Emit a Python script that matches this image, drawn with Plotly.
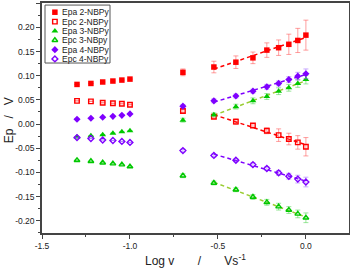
import numpy as np
import plotly.graph_objects as go

# ---- data ----
log_v = [-1.301, -1.222, -1.155, -1.097, -1.046, -1.0, -0.699,
         -0.523, -0.398, -0.301, -0.222, -0.155, -0.097, -0.046, 0.0]

epa2 = [0.082, 0.084, 0.087, 0.089, 0.091, 0.093, 0.107,
        0.118, 0.128, 0.137, 0.153, 0.158, 0.165, 0.173, 0.184]
epa2_err = [None] * 6 + [0.007, 0.012, 0.013, 0.012, 0.015, 0.016, 0.021, 0.025, 0.031]

epc2 = [0.048, 0.047, 0.044, 0.043, 0.042, 0.040, 0.027,
        0.015, 0.005, -0.003, -0.014, -0.023, -0.031, -0.038, -0.047]
epc2_err = [None] * 6 + [0.003, 0.003, 0.006, 0.004, 0.006, 0.013, 0.012, 0.014, 0.019]

epa3 = [-0.027, -0.024, -0.022, -0.019, -0.016, -0.014, 0.008,
        0.019, 0.036, 0.048, 0.057, 0.068, 0.075, 0.084, 0.092]
epa3_err = [None] * 6 + [0.004, 0.004, 0.005, 0.006, 0.006, 0.007, 0.007, 0.008, 0.009]

epc3 = [-0.075, -0.077, -0.080, -0.082, -0.084, -0.088, -0.107,
        -0.122, -0.136, -0.151, -0.162, -0.171, -0.178, -0.186, -0.194]
epc3_err = [None] * 6 + [0.004, 0.004, 0.004, 0.005, 0.006, 0.007, 0.007, 0.008, 0.010]

epa4 = [0.010, 0.012, 0.014, 0.016, 0.018, 0.021, 0.037,
        0.048, 0.058, 0.068, 0.077, 0.084, 0.092, 0.099, 0.104]
epa4_err = [None] * 6 + [0.003, 0.004, 0.004, 0.004, 0.005, 0.005, 0.006, 0.008, 0.010]

epc4 = [-0.028, -0.030, -0.033, -0.034, -0.036, -0.038, -0.055,
        -0.065, -0.075, -0.084, -0.092, -0.101, -0.108, -0.114, -0.120]
epc4_err = [None] * 6 + [0.003, 0.003, 0.003, 0.004, 0.004, 0.005, 0.006, 0.008, 0.010]

series_names = ["Epa 2-NBPy", "Epc 2-NBPy", "Epa 3-NBPy", "Epc 3-NBpy", "Epa 4-NBPy", "Epc 4-NBPy"]

x_tick_vals = [-1.5, -1.0, -0.5, 0.0]
x_tick_text = ["-1.5", "-1.0", "-0.5", "0.0"]
y_tick_vals = [-0.20, -0.15, -0.10, -0.05, 0.00, 0.05, 0.10, 0.15, 0.20, 0.25]
y_tick_text = ["-0.20", "-0.15", "-0.10", "-0.05", "0.00", "0.05", "0.10", "0.15", "0.20", "0.25"]

# ---- styles ----
RED = "#FF0000"
GREEN = "#00C800"
PURPLE = "#7F00FF"
FONT = "Liberation Sans, Arial, sans-serif"

styles = [
    dict(symbol="square", color=RED, err="rgba(255,80,80,0.55)", fit=RED, size=5.5),
    dict(symbol="square-open", color=RED, err="rgba(255,80,80,0.55)", fit=RED, size=4.5),
    dict(symbol="triangle-up", color=GREEN, err="rgba(60,210,60,0.5)", fit="#9ACD32", size=6),
    dict(symbol="triangle-up-open", color=GREEN, err="rgba(60,210,60,0.5)", fit="#9ACD32", size=5),
    dict(symbol="diamond", color=PURPLE, err="rgba(150,90,255,0.5)", fit=PURPLE, size=5.5),
    dict(symbol="diamond-open", color=PURPLE, err="rgba(150,90,255,0.5)", fit=PURPLE, size=4.5),
]
ys = [epa2, epc2, epa3, epc3, epa4, epc4]
errs = [epa2_err, epc2_err, epa3_err, epc3_err, epa4_err, epc4_err]

fig = go.Figure()

# linear fits over the high scan-rate region
fit_x = np.array(log_v[7:])
for y, st in zip(ys, styles):
    k, b = np.polyfit(fit_x, np.array(y[7:]), 1)
    xx = np.array([fit_x[0], fit_x[-1]])
    fig.add_trace(go.Scatter(x=xx, y=k * xx + b, mode="lines", showlegend=False,
                             line=dict(color=st["fit"], width=1.5, dash="4px,3px"),
                             hoverinfo="skip"))

for name, y, e, st in zip(series_names, ys, errs, styles):
    fig.add_trace(go.Scatter(
        x=log_v, y=y, mode="markers", name=name, showlegend=False,
        marker=dict(symbol=st["symbol"], size=st["size"], color=st["color"],
                    line=dict(color=st["color"], width=1.4 if "open" in st["symbol"] else 0)),
        error_y=dict(type="data", array=e, visible=True, color=st["err"], thickness=1, width=2.5),
    ))

# manual compact legend (on hidden overlay axes spanning the plot area)
leg_rows = [0.960, 0.919, 0.878, 0.838, 0.797, 0.757]
for name, st, ry in zip(series_names, styles, leg_rows):
    fig.add_trace(go.Scatter(
        x=[0.042], y=[ry], xaxis="x2", yaxis="y2", mode="markers", showlegend=False,
        marker=dict(symbol=st["symbol"], size=st["size"], color=st["color"],
                    line=dict(color=st["color"], width=1.4 if "open" in st["symbol"] else 0)),
        hoverinfo="skip"))
    fig.add_annotation(x=0.060, y=ry, xref="paper", yref="paper", text=name,
                       showarrow=False, xanchor="left", yanchor="middle",
                       font=dict(size=8.5, family=FONT, color="#222"))

fig.add_shape(type="rect", xref="paper", yref="paper", x0=0.0098, x1=0.2215, y0=0.739, y1=0.991,
              line=dict(color="#555", width=1), fillcolor="rgba(0,0,0,0)")

nb = "\u00a0"
fig.add_annotation(x=0.5, y=-0.118, xref="paper", yref="paper",
                   text="Log v" + nb * 7 + "/" + nb * 7 + "Vs<sup>-1</sup>",
                   showarrow=False, xanchor="center", yanchor="middle",
                   font=dict(size=12, family=FONT, color="#222"))
fig.add_annotation(x=-0.108, y=0.49, xref="paper", yref="paper",
                   text="Ep" + nb * 3 + "/" + nb * 3 + "V", textangle=-90,
                   showarrow=False, xanchor="center", yanchor="middle",
                   font=dict(size=12, family=FONT, color="#222"))

axis_common = dict(showgrid=False, zeroline=False, showline=True, linecolor="#444",
                   linewidth=1.5, mirror=True, ticks="outside", ticklen=4, tickwidth=1,
                   tickcolor="#444", tickfont=dict(size=8.5, family=FONT, color="#222"),
                   automargin=False)

fig.update_layout(
    width=350, height=270,
    margin=dict(l=42, r=1, t=3, b=37),
    paper_bgcolor="white", plot_bgcolor="white",
    showlegend=False,
    xaxis=dict(range=[-1.5, 0.245], tickvals=x_tick_vals, ticktext=x_tick_text,
               minor=dict(dtick=0.25, tick0=0, ticks="outside", ticklen=2.5, tickcolor="#444"),
               **axis_common),
    yaxis=dict(range=[-0.2255, 0.2505], tickvals=y_tick_vals, ticktext=y_tick_text,
               minor=dict(dtick=0.025, tick0=0, ticks="outside", ticklen=2.5, tickcolor="#444"),
               **axis_common),
    xaxis2=dict(overlaying="x", range=[0, 1], visible=False, automargin=False),
    yaxis2=dict(overlaying="y", range=[0, 1], visible=False, automargin=False),
)

fig.write_html("out.html", config={"displayModeBar": False},
               post_script="document.body.style.margin='0';")
